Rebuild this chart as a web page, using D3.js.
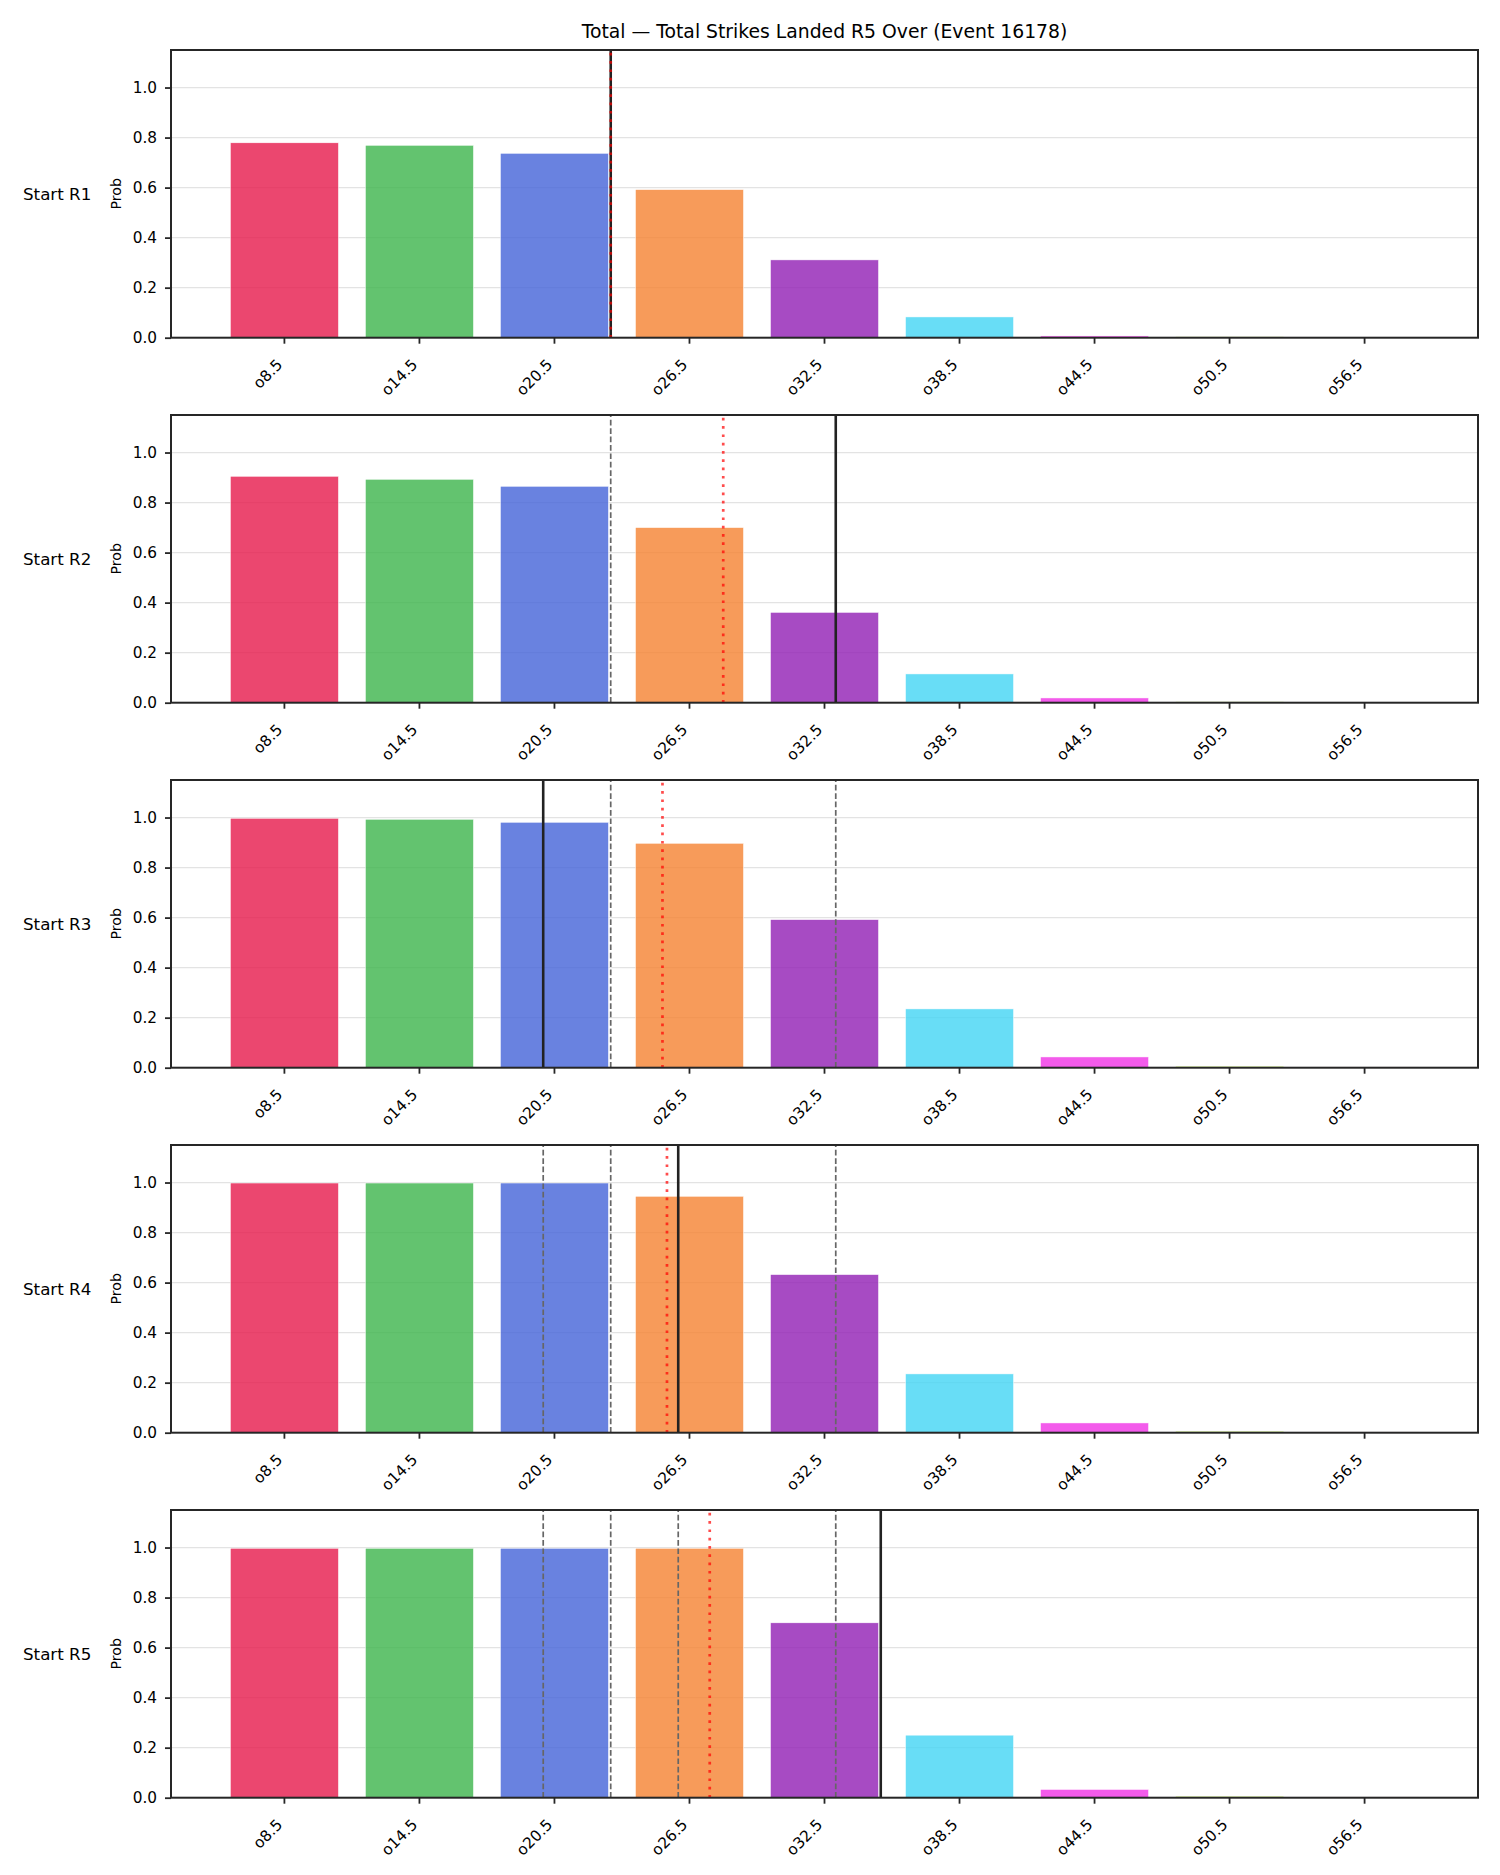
<!DOCTYPE html>
<html>
<head>
<meta charset="utf-8">
<script src="https://cdn.jsdelivr.net/npm/d3@7"></script>
<style>
  body { margin: 0; background: #fff; }
  svg text { font-family: "DejaVu Sans", sans-serif; fill: #000; }
</style>
</head>
<body>
<div id="chart"></div>
<script>
// Over lines and round labels
var lines = ["o8.5", "o14.5", "o20.5", "o26.5", "o32.5", "o38.5", "o44.5", "o50.5", "o56.5"];
var lineValues = [8.5, 14.5, 20.5, 26.5, 32.5, 38.5, 44.5, 50.5, 56.5];
var rounds = ["Start R1", "Start R2", "Start R3", "Start R4", "Start R5"];

// P(over) per line, one array per starting round
var probR1 = [0.779, 0.769, 0.737, 0.592, 0.311, 0.083, 0.007, 0.004, 0.002];
var probR2 = [0.905, 0.893, 0.865, 0.700, 0.361, 0.115, 0.019, 0.004, 0.002];
var probR3 = [0.997, 0.993, 0.981, 0.897, 0.592, 0.235, 0.043, 0.006, 0.003];
var probR4 = [0.998, 0.998, 0.998, 0.945, 0.632, 0.235, 0.039, 0.006, 0.003];
var probR5 = [0.997, 0.997, 0.997, 0.997, 0.699, 0.250, 0.033, 0.006, 0.003];

// marker lines (strike counts): solid black per round, red dotted per round
var actualTotals = [23, 33, 20, 26, 35];
var meanTotals = [23, 28, 25.3, 25.5, 27.4];

var barColors = ["#e6194b", "#3cb44b", "#4363d8", "#f58231", "#911eb4",
    "#42d4f4", "#f032e6", "#bfef45", "#fabed4"];

var allProbs = [probR1, probR2, probR3, probR4, probR5];

var W = 1500, H = 1875;
var margin = {left: 171, right: 22};
var panelTop = 50, panelStep = 365, panelH = 287.7;

var svg = d3.select("#chart").append("svg")
    .attr("width", W)
    .attr("height", H);

var x = d3.scaleBand()
    .domain(lines)
    .range([margin.left, W - margin.right])
    .paddingInner(0.2)
    .paddingOuter(0.44);

var xc = function (d) { return x(d) + x.bandwidth() / 2; };

// strike count -> position along the category axis
var xLine = d3.scaleLinear()
    .domain([lineValues[0], lineValues[lineValues.length - 1]])
    .range([xc(lines[0]), xc(lines[lines.length - 1])]);

svg.append("text")
    .attr("x", (margin.left + W - margin.right) / 2)
    .attr("y", 38)
    .attr("text-anchor", "middle")
    .style("font-size", "18.8px")
    .text("Total \u2014 Total Strikes Landed R5 Over (Event 16178)");

allProbs.forEach(function (probs, r) {
    var top = panelTop + r * panelStep;
    var bottom = top + panelH;

    var y = d3.scaleLinear()
        .domain([0, 1.15])
        .range([bottom, top]);

    var g = svg.append("g").attr("class", "panel");

    // grid
    g.selectAll("line.grid")
        .data([0.2, 0.4, 0.6, 0.8, 1.0])
        .enter().append("line")
        .attr("class", "grid")
        .attr("x1", margin.left)
        .attr("x2", W - margin.right)
        .attr("y1", function (d) { return y(d); })
        .attr("y2", function (d) { return y(d); })
        .style("stroke", "#e3e3e3")
        .style("stroke-width", 1.2);

    // bars
    g.selectAll("rect.bar")
        .data(probs)
        .enter().append("rect")
        .attr("class", "bar")
        .attr("x", function (d, i) { return x(lines[i]); })
        .attr("width", x.bandwidth())
        .attr("y", function (d) { return y(d); })
        .attr("height", function (d) { return y(0) - y(d); })
        .style("fill", function (d, i) { return barColors[i]; })
        .style("fill-opacity", 0.8)
        .style("stroke", "#fff")
        .style("stroke-width", 0.5);

    // earlier rounds' totals (dashed)
    g.selectAll("line.prev")
        .data(actualTotals.slice(0, r))
        .enter().append("line")
        .attr("class", "prev")
        .attr("x1", function (d) { return xLine(d); })
        .attr("x2", function (d) { return xLine(d); })
        .attr("y1", bottom)
        .attr("y2", top)
        .style("stroke", "#666")
        .style("stroke-width", 1.7)
        .style("stroke-dasharray", "5.7,2.7");

    // this round's total
    g.append("line")
        .attr("x1", xLine(actualTotals[r]))
        .attr("x2", xLine(actualTotals[r]))
        .attr("y1", bottom)
        .attr("y2", top)
        .style("stroke", "#222")
        .style("stroke-width", 2.6);

    // red dotted
    g.append("line")
        .attr("x1", xLine(meanTotals[r]))
        .attr("x2", xLine(meanTotals[r]))
        .attr("y1", bottom)
        .attr("y2", top)
        .style("stroke", "#ff0000")
        .style("stroke-opacity", 0.7)
        .style("stroke-width", 2.7)
        .style("stroke-dasharray", "2.7,5.6");

    // axes
    var yAxis = d3.axisLeft(y)
        .tickValues([0, 0.2, 0.4, 0.6, 0.8, 1.0])
        .tickFormat(d3.format(".1f"))
        .tickSize(6)
        .tickPadding(8);

    var ya = g.append("g")
        .attr("transform", "translate(" + margin.left + ",0)")
        .call(yAxis);
    ya.select(".domain").remove();
    ya.selectAll("line").style("stroke", "#262626").style("stroke-width", 1.8);
    ya.selectAll("text").style("font-size", "15.3px").style("font-family", "DejaVu Sans");

    var xAxis = d3.axisBottom(x).tickSize(6).tickSizeOuter(0);
    var xa = g.append("g")
        .attr("transform", "translate(0," + bottom + ")")
        .call(xAxis);
    xa.select(".domain").remove();
    xa.selectAll("line").style("stroke", "#262626").style("stroke-width", 1.8);
    xa.selectAll("text")
        .attr("y", null)
        .attr("dy", null)
        .attr("transform", "translate(-1,28) rotate(-45)")
        .attr("text-anchor", "end")
        .style("font-size", "15.3px")
        .style("font-family", "DejaVu Sans");

    // frame
    g.append("rect")
        .attr("x", margin.left)
        .attr("y", top)
        .attr("width", W - margin.right - margin.left)
        .attr("height", panelH)
        .style("fill", "none")
        .style("stroke", "#262626")
        .style("stroke-width", 2);

    g.append("text")
        .attr("transform", "translate(121," + (top + panelH / 2) + ") rotate(-90)")
        .attr("text-anchor", "middle")
        .style("font-size", "14.2px")
        .text("Prob");

    g.append("text")
        .attr("x", 23)
        .attr("y", top + panelH / 2)
        .attr("dy", "0.35em")
        .style("font-size", "16.7px")
        .text(rounds[r]);
});
</script>
</body>
</html>
